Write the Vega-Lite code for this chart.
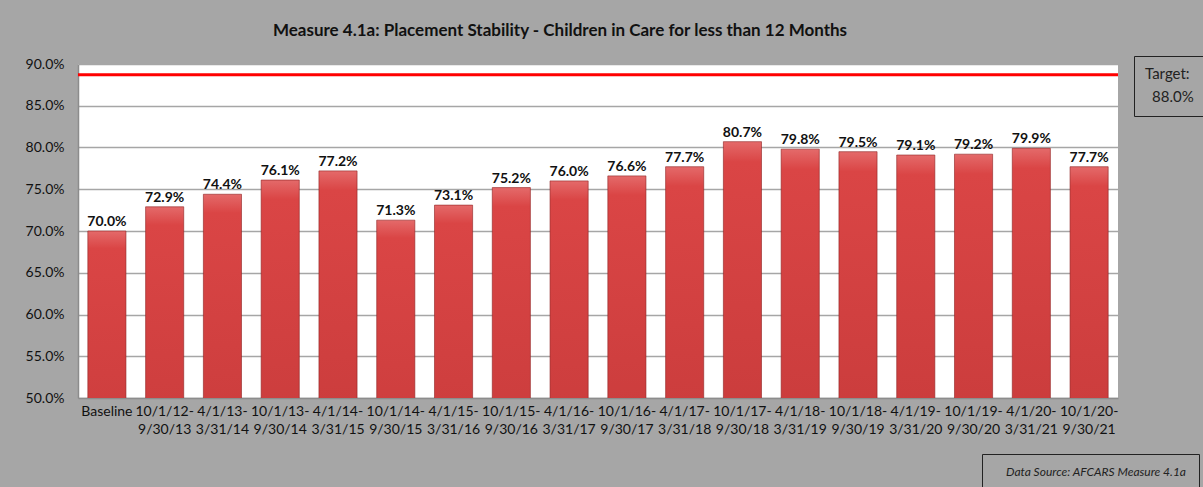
{
  "$schema": "https://vega.github.io/schema/vega-lite/v6.json",
  "width": 1040,
  "height": 334,
  "autosize": {"type": "none"},
  "padding": {"left": 78, "top": 64, "right": 85, "bottom": 89},
  "background": "#a6a6a6",
  "config": {
    "font": "Lato",
    "view": {"fill": "white", "stroke": null},
    "axis": {"labelFont": "Lato", "labelColor": "#111111", "labelFontSize": 14, "ticks": false, "title": null, "domainColor": "#8c8c8c", "domainWidth": 1.5}
  },
  "title": {
    "text": "Measure 4.1a: Placement Stability - Children in Care for less than 12 Months",
    "font": "Lato", "fontSize": 17, "fontWeight": "bold", "color": "#111111",
    "anchor": "middle", "dx": -38, "offset": 16
  },
  "layer": [
    {
      "data": {"values": [
        {"period": "Baseline", "value": 0.700},
        {"period": "10/1/12-9/30/13", "value": 0.729},
        {"period": "4/1/13-3/31/14", "value": 0.744},
        {"period": "10/1/13-9/30/14", "value": 0.761},
        {"period": "4/1/14-3/31/15", "value": 0.772},
        {"period": "10/1/14-9/30/15", "value": 0.713},
        {"period": "4/1/15-3/31/16", "value": 0.731},
        {"period": "10/1/15-9/30/16", "value": 0.752},
        {"period": "4/1/16-3/31/17", "value": 0.760},
        {"period": "10/1/16-9/30/17", "value": 0.766},
        {"period": "4/1/17-3/31/18", "value": 0.777},
        {"period": "10/1/17-9/30/18", "value": 0.807},
        {"period": "4/1/18-3/31/19", "value": 0.798},
        {"period": "10/1/18-9/30/19", "value": 0.795},
        {"period": "4/1/19-3/31/20", "value": 0.791},
        {"period": "10/1/19-9/30/20", "value": 0.792},
        {"period": "4/1/20-3/31/21", "value": 0.799},
        {"period": "10/1/20-9/30/21", "value": 0.777}
      ]},
      "encoding": {
        "x": {
          "field": "period", "type": "nominal", "sort": null,
          "scale": {"paddingInner": 0.34, "paddingOuter": 0.17},
          "axis": {
            "labelAngle": 0, "labelPadding": 6, "labelLineHeight": 18, "labelBaseline": "top",
            "labelExpr": "indexof(datum.label,'-')>0 ? [substring(datum.label,0,indexof(datum.label,'-')+1), substring(datum.label,indexof(datum.label,'-')+1)] : datum.label"
          }
        },
        "y": {
          "field": "value", "type": "quantitative",
          "scale": {"domain": [0.5, 0.9], "nice": false, "zero": false},
          "axis": {
            "values": [0.5, 0.55, 0.6, 0.65, 0.7, 0.75, 0.8, 0.85, 0.9],
            "format": ".1%",
            "labelPadding": 14, "gridColor": "#a6a6a6", "gridWidth": 1.5
          }
        }
      },
      "layer": [
        {
          "mark": {
            "type": "bar", "clip": true,
            "color": {"gradient": "linear", "x1": 0, "y1": 0, "x2": 0, "y2": 1,
              "stops": [
                {"offset": 0, "color": "#e46a6a"},
                {"offset": 0.03, "color": "#da4545"},
                {"offset": 0.5, "color": "#c63a3a"},
                {"offset": 1, "color": "#a02a2a"}
              ]},
            "stroke": "#8e2222", "strokeWidth": 0.6
          }
        },
        {
          "mark": {"type": "text", "font": "Lato", "fontWeight": "bold", "fontSize": 14, "color": "#111111", "baseline": "bottom", "dy": -2},
          "encoding": {"text": {"field": "value", "type": "quantitative", "format": ".1%"}}
        }
      ]
    },
    {
      "data": {"values": [{"target": 0.887, "tgt": "88.0%", "src": "Data Source: AFCARS Measure 4.1a"}]},
      "mark": {"type": "rule", "strokeWidth": 3},
      "encoding": {
        "y": {"field": "target", "type": "quantitative"},
        "color": {
          "field": "tgt", "type": "nominal", "scale": {"range": ["#ff0000"]},
          "legend": {
            "title": "Target:", "orient": "none", "legendX": 1056, "legendY": -8,
            "titleFont": "Lato", "titleFontSize": 15, "titleFontWeight": "normal", "titleColor": "#222222",
            "labelFont": "Lato", "labelFontSize": 15, "labelColor": "#222222",
            "symbolSize": 0, "symbolOpacity": 0, "symbolStrokeWidth": 0, "labelOffset": -8,
            "strokeColor": "#222222", "padding": 11, "titlePadding": 7
          }
        },
        "strokeDash": {
          "field": "src", "type": "nominal", "scale": {"range": [[1, 0]]},
          "legend": {
            "title": null, "orient": "none", "legendX": 904, "legendY": 390,
            "labelFont": "Lato", "labelFontSize": 12, "labelFontStyle": "italic", "labelColor": "#222222",
            "symbolSize": 0, "symbolOpacity": 0, "symbolStrokeWidth": 0, "labelOffset": 0,
            "strokeColor": "#222222", "padding": 12, "labelLimit": 300
          }
        }
      }
    }
  ]
}
